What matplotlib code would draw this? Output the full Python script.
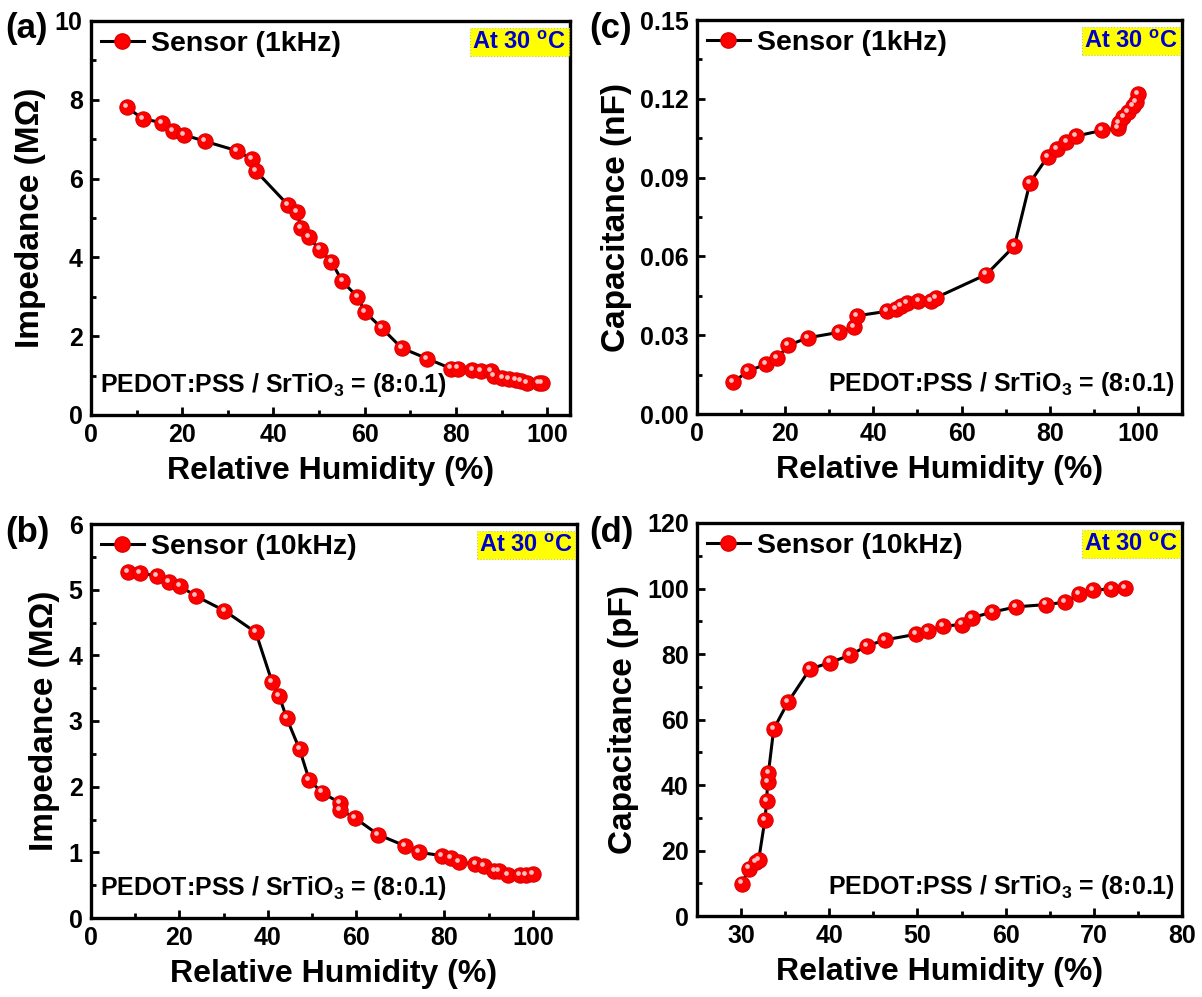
import matplotlib
matplotlib.use("Agg")
import matplotlib.pyplot as plt
from matplotlib.transforms import offset_copy
from matplotlib.ticker import MultipleLocator, FormatStrFormatter

plt.rcParams['font.family'] = ['Liberation Sans', 'DejaVu Sans']
plt.rcParams['font.weight'] = 'bold'
plt.rcParams['mathtext.fontset'] = 'custom'
plt.rcParams['mathtext.rm'] = 'Liberation Sans:bold'
plt.rcParams['mathtext.bf'] = 'Liberation Sans:bold'
plt.rcParams['mathtext.it'] = 'Liberation Sans:bold'

# ---------------- data ----------------
rh_a = [7.9, 11.3, 15.5, 18.0, 20.4, 24.9, 31.9, 35.2, 36.1, 43.1, 45.1, 46.1, 47.7,
        50.1, 52.7, 55.1, 58.4, 60.1, 63.8, 68.1, 73.7, 78.9, 80.4, 83.6, 85.5, 87.6,
        88.4, 90.2, 91.6, 93.1, 94.2, 95.6, 98.2, 98.9]
imp_a = [7.81, 7.52, 7.42, 7.21, 7.11, 6.95, 6.71, 6.50, 6.20, 5.34, 5.16, 4.75, 4.51,
         4.20, 3.89, 3.39, 3.00, 2.61, 2.20, 1.70, 1.43, 1.18, 1.18, 1.13, 1.12, 1.11,
         1.00, 0.94, 0.92, 0.89, 0.86, 0.82, 0.82, 0.80]

rh_b = [8.3, 11.0, 15.0, 17.7, 20.2, 23.8, 30.2, 37.3, 41.0, 42.6, 44.3, 47.2, 49.4,
        52.3, 56.4, 56.4, 59.8, 65.0, 71.0, 74.2, 79.4, 81.5, 83.3, 87.0, 88.9, 91.3,
        92.4, 94.3, 97.0, 98.4, 100.0]
imp_b = [5.27, 5.25, 5.21, 5.11, 5.05, 4.90, 4.68, 4.35, 3.59, 3.38, 3.04, 2.57, 2.10,
         1.91, 1.75, 1.65, 1.52, 1.27, 1.10, 1.00, 0.95, 0.91, 0.85, 0.82, 0.79, 0.72,
         0.71, 0.66, 0.66, 0.66, 0.67]

rh_c = [8.2, 11.5, 15.7, 18.2, 20.6, 25.1, 32.2, 35.5, 36.3, 43.1, 45.2, 46.3, 47.6,
        50.2, 53.0, 54.1, 65.6, 72.0, 75.5, 79.5, 81.7, 83.8, 86.0, 91.9, 95.4, 95.7,
        96.7, 97.7, 98.9, 99.5, 100.0]
cap_c = [0.0120, 0.0163, 0.0190, 0.0212, 0.0261, 0.0290, 0.0311, 0.0330, 0.0374, 0.0391,
         0.0400, 0.0412, 0.0422, 0.0431, 0.0429, 0.0442, 0.0531, 0.0640, 0.0880, 0.0979,
         0.1007, 0.1036, 0.1058, 0.1080, 0.1087, 0.1106, 0.1131, 0.1150, 0.1171, 0.1188,
         0.1219]

rh_d = [30.1, 30.9, 31.7, 32.0, 32.7, 32.9, 33.0, 33.1, 33.7, 35.3, 37.8, 40.1, 42.3,
        44.3, 46.3, 49.8, 51.2, 52.9, 55.0, 56.2, 58.5, 61.2, 64.6, 66.7, 68.3, 69.9,
        72.0, 73.5]
cap_d = [9.9, 14.5, 16.5, 17.2, 29.4, 35.0, 40.9, 43.7, 57.1, 65.2, 75.4, 77.4, 79.6,
         82.5, 84.3, 86.0, 87.0, 88.5, 89.0, 91.1, 92.8, 94.4, 95.1, 95.8, 98.2, 99.5,
         99.9, 100.1]

xlabel = 'Relative Humidity (%)'
ylabels = ['Impedance (M\u03A9)', 'Capacitance (nF)', 'Impedance (M\u03A9)', 'Capacitance (pF)']
legends = ['Sensor (1kHz)', 'Sensor (1kHz)', 'Sensor (10kHz)', 'Sensor (10kHz)']
panel_tags = ['(a)', '(c)', '(b)', '(d)']
temp_text = r'At 30 $^{\mathbf{o}}$C'
comp_text = r'PEDOT:PSS / SrTiO$_{\mathbf{3}}$ = (8:0.1)'

# ---------------- figure ----------------
W, H = 1202, 997
fig = plt.figure(figsize=(W / 100, H / 100), dpi=100)


def rect(l, t, r, b):
    return [l / W, 1 - b / H, (r - l) / W, (b - t) / H]


axes_px = [(91, 21, 570, 415), (697, 20, 1182, 414),
           (91, 524, 577, 918), (697, 523, 1182, 916)]
tag_px = [(5, 12), (589, 12), (5, 516), (589, 516)]
datasets = [(rh_a, imp_a), (rh_c, cap_c), (rh_b, imp_b), (rh_d, cap_d)]
xlims = [(0, 105), (0, 110), (0, 110), (25, 80)]
ylims = [(0, 10), (0, 0.15), (0, 6), (0, 120)]
xmaj = [20, 20, 20, 10]
ymaj = [2, 0.03, 1, 20]
yfmt = ['%d', '%.2f', '%d', '%d']
comp_pos = ['left', 'right', 'left', 'right']

for i in range(4):
    ax = fig.add_axes(rect(*axes_px[i]))
    x, y = datasets[i]
    ax.plot(x, y, '-', color='black', lw=2.2, zorder=2)
    ax.plot(x, y, 'o', ms=11, mfc='#ff0000', mec='#dd0000', mew=0.8, lw=0,
            zorder=3)
    hl = offset_copy(ax.transData, fig=fig, x=-1.3, y=1.5, units='points')
    ax.plot(x, y, 'o', ms=3.4, mfc='#ffc0c0', mec='none', lw=0, transform=hl,
            zorder=4)
    h, = ax.plot([], [], '-o', color='black', lw=2.2, ms=11, mfc='#ff0000',
                 mec='#dd0000')
    ax.legend([h], [legends[i]], loc='upper left', frameon=False,
              prop={'size': 20.5, 'weight': 'bold'}, handlelength=1.5,
              handletextpad=0.25, borderaxespad=0.1, borderpad=0.25)

    ax.set_xlim(*xlims[i])
    ax.set_ylim(*ylims[i])
    ax.xaxis.set_major_locator(MultipleLocator(xmaj[i]))
    ax.xaxis.set_minor_locator(MultipleLocator(xmaj[i] / 2))
    ax.yaxis.set_major_locator(MultipleLocator(ymaj[i]))
    ax.yaxis.set_minor_locator(MultipleLocator(ymaj[i] / 2))
    ax.yaxis.set_major_formatter(FormatStrFormatter(yfmt[i]))
    ax.tick_params(which='both', direction='in', top=False, right=False,
                   width=2.0, labelsize=18, pad=6)
    ax.tick_params(which='major', length=6)
    ax.tick_params(which='minor', length=3.5)
    for lab in ax.get_xticklabels() + ax.get_yticklabels():
        lab.set_fontweight('bold')
    for s in ax.spines.values():
        s.set_linewidth(2.4)

    ax.set_xlabel(xlabel, fontsize=23, fontweight='bold', labelpad=6)
    ax.set_ylabel(ylabels[i], fontsize=24, fontweight='bold', labelpad=6)

    ax.text(0.992, 0.975, temp_text, transform=ax.transAxes, ha='right', va='top',
            fontsize=17, fontweight='bold', color='#0000cc',
            bbox=dict(boxstyle='square,pad=0.1', fc='#ffff00', ec='#c8c860',
                      lw=0.8, ls=':'))
    if comp_pos[i] == 'left':
        ax.text(0.018, 0.075, comp_text, transform=ax.transAxes, ha='left',
                va='center', fontsize=18, fontweight='bold')
    else:
        ax.text(0.985, 0.075, comp_text, transform=ax.transAxes, ha='right',
                va='center', fontsize=18, fontweight='bold')

    tx, ty = tag_px[i]
    fig.text(tx / W, 1 - ty / H, panel_tags[i], ha='left', va='top',
             fontsize=25, fontweight='bold')

fig.savefig('out.png', dpi=100)
